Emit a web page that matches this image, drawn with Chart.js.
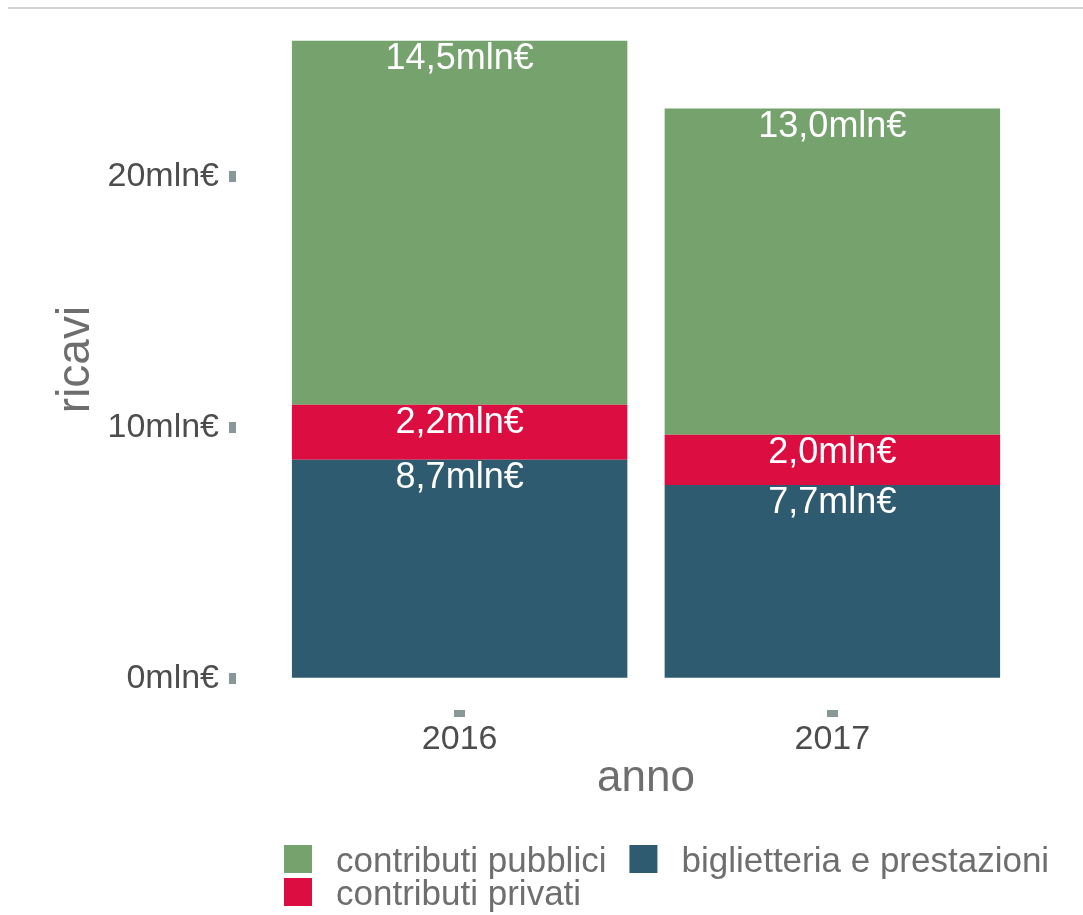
<!DOCTYPE html>
<html>
<head>
<meta charset="utf-8">
<script src="https://cdn.jsdelivr.net/npm/chart.js@4/dist/chart.umd.min.js"></script>
<style>
  html, body { margin: 0; padding: 0; background: #fff; }
  canvas { display: block; }
</style>
</head>
<body>
<canvas id="ricavi" width="1083" height="915"></canvas>
<script>
// data (mln €)
const years = ['2016', '2017']
const biglietteria = [8.7, 7.7]
const privati = [2.2, 2.0]
const pubblici = [14.5, 13.0]
const yTicks = [0, 10, 20]

const seriesNames = ['biglietteria e prestazioni', 'contributi privati', 'contributi pubblici']
const seriesColors = ['#2f5b70', '#dc0d41', '#76a26d']
// legend order, as in the picture (top of stack first)
const legendOrder = [2, 1, 0]

const fontFam = "'Liberation Sans', Arial, sans-serif"
const fmt = v => v.toFixed(1).replace('.', ',') + 'mln€'

const totals = years.map((_, i) => biglietteria[i] + privati[i] + pubblici[i])
const topTotal = Math.max(...totals)
const pad = topTotal * 0.05

const mkData = arr => arr.map((v, i) => ({x: i, y: v}))

// grey line at the top + bar labels + legend
const extras = {
  id: 'extras',
  beforeDraw(chart) {
    const c = chart.ctx
    c.save()
    c.strokeStyle = '#c4c4c4'
    c.lineWidth = 1.5
    c.beginPath()
    c.moveTo(8, 8)
    c.lineTo(chart.width, 8)
    c.stroke()
    c.restore()
  },
  afterDatasetsDraw(chart) {
    const c = chart.ctx
    c.save()
    c.font = `36px ${fontFam}`
    c.fillStyle = '#ffffff'
    c.textAlign = 'center'
    c.textBaseline = 'alphabetic'
    chart.data.datasets.forEach((ds, i) => {
      chart.getDatasetMeta(i).data.forEach((bar, j) => {
        c.fillText(fmt(ds.data[j].y), bar.x, bar.y + 28)
      })
    })
    c.restore()
  },
  afterDraw(chart) {
    const c = chart.ctx
    const box = 28
    const startX = 284
    const startY = 845
    const rowH = 33
    c.save()
    c.font = `35px ${fontFam}`
    c.textBaseline = 'alphabetic'
    c.textAlign = 'left'
    let colX = startX
    let colW = 0
    legendOrder.forEach((dsIdx, k) => {
      const row = k % 2
      if (k > 0 && row === 0) {
        colX += colW + 23
        colW = 0
      }
      const ds = chart.data.datasets[dsIdx]
      const y = startY + row * rowH
      c.fillStyle = ds.backgroundColor
      c.fillRect(colX, y, box, box)
      c.fillStyle = '#6e6e6e'
      c.fillText(ds.label, colX + box + 24, y + box - 1)
      colW = Math.max(colW, box + 24 + c.measureText(ds.label).width)
    })
    c.restore()
  }
}

new Chart(document.getElementById('ricavi'), {
  type: 'bar',
  data: {
    datasets: [
      {label: seriesNames[0], data: mkData(biglietteria), backgroundColor: seriesColors[0]},
      {label: seriesNames[1], data: mkData(privati), backgroundColor: seriesColors[1]},
      {label: seriesNames[2], data: mkData(pubblici), backgroundColor: seriesColors[2]}
    ]
  },
  options: {
    responsive: false,
    animation: false,
    barPercentage: 0.9,
    categoryPercentage: 1.0,
    layout: {padding: {top: 9, right: 27, bottom: 105, left: 0}},
    plugins: {
      legend: {display: false},
      tooltip: {enabled: false}
    },
    scales: {
      x: {
        type: 'linear',
        stacked: true,
        offset: false,
        min: -0.6,
        max: years.length - 1 + 0.6,
        afterBuildTicks: s => { s.ticks = years.map((_, i) => ({value: i})) },
        afterFit: s => { s.height = 100; s.paddingLeft = 0; s.paddingRight = 0 },
        ticks: {
          callback: v => years[v] ?? '',
          color: '#4d4d4d',
          font: {family: fontFam, size: 34},
          padding: 2,
          maxRotation: 0
        },
        grid: {offset: false, drawOnChartArea: false, drawTicks: true, tickLength: 7, tickWidth: 11, tickColor: '#889896'},
        border: {display: false},
        title: {
          display: true,
          text: 'anno',
          color: '#6e6e6e',
          font: {family: fontFam, size: 44},
          padding: {top: 0, bottom: 5}
        }
      },
      y: {
        stacked: true,
        min: -pad,
        max: topTotal + pad,
        afterBuildTicks: s => { s.ticks = yTicks.map(v => ({value: v})) },
        afterFit: s => { s.width = 236; s.paddingTop = 0; s.paddingBottom = 0 },
        ticks: {
          callback: v => v + 'mln€',
          color: '#4d4d4d',
          font: {family: fontFam, size: 34},
          padding: 10
        },
        grid: {drawOnChartArea: false, drawTicks: true, tickLength: 7, tickWidth: 11, tickColor: '#889896'},
        border: {display: false},
        title: {
          display: true,
          text: 'ricavi',
          color: '#6e6e6e',
          font: {family: fontFam, size: 46},
          padding: {top: 49, bottom: 0}
        }
      }
    }
  },
  plugins: [extras]
})
</script>
</body>
</html>
